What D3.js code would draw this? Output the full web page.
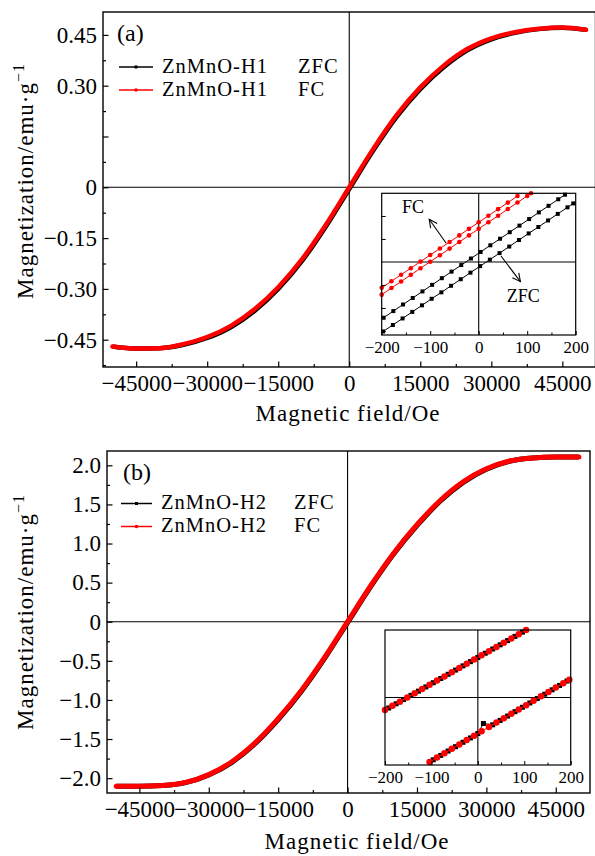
<!DOCTYPE html>
<html>
<head>
<meta charset="utf-8">
<script src="https://cdn.jsdelivr.net/npm/d3@7"></script>
<style>
  body { margin: 0; background: #fff; }
  text { font-family: "Liberation Serif", "Times New Roman", serif; fill: #000; }
</style>
</head>
<body>
<svg id="fig" width="595" height="856"></svg>
<script>
// ---- main loops (field in Oe, magnetization in emu/g) ----
var field = [-50000,-45000,-40000,-35000,-30000,-25000,-20000,-15000,-10000,-5000,0,
             5000,10000,15000,20000,25000,30000,35000,40000,45000,50000];
var fcA  = [-0.470,-0.476,-0.475,-0.463,-0.442,-0.409,-0.360,-0.295,-0.213,-0.112,0,
             0.112,0.213,0.295,0.360,0.409,0.440,0.458,0.468,0.472,0.465];
var zfcA = [-0.470,-0.476,-0.475,-0.465,-0.445,-0.413,-0.365,-0.300,-0.218,-0.117,-0.005,
             0.107,0.208,0.290,0.355,0.405,0.437,0.456,0.467,0.471,0.465];
var fcB  = [-2.105,-2.105,-2.095,-2.055,-1.955,-1.790,-1.550,-1.240,-0.880,-0.460,0,
             0.460,0.880,1.240,1.550,1.790,1.955,2.055,2.095,2.105,2.105];
var zfcB = [-2.105,-2.105,-2.095,-2.058,-1.960,-1.798,-1.560,-1.252,-0.892,-0.472,-0.012,
             0.448,0.868,1.228,1.540,1.782,1.950,2.052,2.094,2.105,2.105];

// ---- axis ticks ----
var xMajor = [-45000,-30000,-15000,0,15000,30000,45000];
var xMinor = [-37500,-22500,-7500,7500,22500,37500];
var yTicksA  = [-0.45,-0.30,-0.15,0,0.15,0.30,0.45];
var yLabelsA = ["\u22120.45","\u22120.30","\u22120.15","0","","0.30","0.45"];
var yMinorA  = [-0.525,-0.375,-0.225,-0.075,0.075,0.225,0.375,0.525];
var yTicksB  = [-2.0,-1.5,-1.0,-0.5,0,0.5,1.0,1.5,2.0];
var yLabelsB = ["\u22122.0","\u22121.5","\u22121.0","\u22120.5","0","0.5","1.0","1.5","2.0"];
var yMinorB  = [-1.75,-1.25,-0.75,-0.25,0.25,0.75,1.25,1.75];

// ---- insets (field in Oe, magnetization in 10^-3 emu/g) ----
var insetXTicks  = [-200,-100,0,100,200];
var insetXLabels = ["\u2212200","\u2212100","0","100","200"];
var insetXMinor  = [-150,-50,50,150];

var zfcUpA_H = [-196,-176,-156,-136,-116,-96,-76,-56,-36,-16,4,24,44,64,84,104,124,144,164,178];
var zfcUpA_M = [-4.85,-4.27,-3.70,-3.13,-2.56,-1.99,-1.41,-0.84,-0.27,0.30,0.87,1.45,2.02,2.59,3.16,3.73,4.31,4.88,5.45,5.85];
var zfcLoA_H = [-197,-177,-157,-137,-117,-97,-77,-57,-37,-17,3,23,43,63,83,103,123,143,163,183,195];
var zfcLoA_M = [-6.04,-5.48,-4.91,-4.34,-3.77,-3.20,-2.64,-2.07,-1.50,-0.93,-0.36,0.20,0.77,1.34,1.91,2.48,3.04,3.61,4.18,4.75,5.09];
var fcUpA_H = [-200,-180,-160,-140,-120,-100,-80,-60,-40,-20,0,20,40,60,80];
var fcUpA_M = [-2.25,-1.68,-1.11,-0.54,0.03,0.60,1.17,1.74,2.31,2.88,3.45,4.02,4.59,5.16,5.73];
var fcLoA_H = [-200,-180,-160,-140,-120,-100,-80,-60,-40,-20,0,20,40,60,80,100,108];
var fcLoA_M = [-2.84,-2.27,-1.70,-1.12,-0.55,0.02,0.59,1.16,1.74,2.31,2.88,3.45,4.02,4.60,5.17,5.74,5.97];

var fcUpB_H = [-200,-184,-168,-152,-136,-120,-104,-88,-72,-56,-40,-24,-8,8,24,40,56,72,88,104];
var fcUpB_M = [-3.73,-2.48,-1.23,0.01,1.26,2.51,3.76,5.01,6.25,7.50,8.75,10.00,11.25,12.49,13.74,14.99,16.24,17.49,18.73,19.98];
var fcLoB_H = [-104,-88,-72,-56,-40,-24,-8,8,24,40,56,72,88,104,120,136,152,168,184,197];
var fcLoB_M = [-19.10,-17.81,-16.51,-15.22,-13.92,-12.62,-11.33,-10.03,-8.74,-7.44,-6.14,-4.85,-3.55,-2.26,-0.96,0.34,1.63,2.93,4.22,5.28];
var zfcUpB_H = [-192,-176,-160,-144,-128,-112,-96,-80,-64,-48,-32,-16,0,16,32,48,64,80,96];
var zfcUpB_M = [-3.11,-1.86,-0.61,0.64,1.89,3.13,4.38,5.63,6.88,8.13,9.37,10.62,11.87,13.12,14.37,15.61,16.86,18.11,19.36];
var zfcLoB_H = [-96,-80,-64,-48,-32,-16,0,12,32,48,64,80,96,112,128,144,160,176,192];
var zfcLoB_M = [-18.46,-17.16,-15.86,-14.57,-13.27,-11.98,-10.68,-7.70,-8.09,-6.79,-5.50,-4.20,-2.90,-1.61,-0.31,0.98,2.28,3.58,4.87];

// ---- legend / annotation text ----
var legendA = ["ZnMnO-H1","ZnMnO-H1"];
var legendB = ["ZnMnO-H2","ZnMnO-H2"];
var legendKind = ["ZFC","FC"];
var noteLabels = ["FC","ZFC"];
var noteTextH = [-158, 58];
var noteTextM = [4.26, -3.48];
var arrowFromH = [-67, 46], arrowFromM = [1.63, 0.52];
var arrowToH = [-102, 86],  arrowToM = [3.71, -1.71];

var RED = "#ff0000";
var svg = d3.select("#fig");

svg.append("defs").append("marker")
  .attr("id", "arrow").attr("markerUnits", "userSpaceOnUse")
  .attr("markerWidth", 12).attr("markerHeight", 12)
  .attr("refX", 9).attr("refY", 5).attr("orient", "auto")
  .append("path").attr("d", "M1,1 L9,5 L1,9")
  .attr("fill", "none").attr("stroke", "#000").attr("stroke-width", 1.1);

function noDomain(sel) { sel.select(".domain").remove(); }

function drawPanel(p) {
  var g = svg.append("g");
  var x = d3.scaleLinear().domain(p.xDomain).range([p.left, p.right]);
  var y = d3.scaleLinear().domain(p.yDomain).range([p.bottom, p.top]);

  // zero lines
  g.append("line").attr("x1", x(0)).attr("x2", x(0)).attr("y1", p.top).attr("y2", p.bottom)
    .attr("stroke", "#000").attr("stroke-width", 1.1);
  g.append("line").attr("x1", p.left).attr("x2", p.right).attr("y1", y(0)).attr("y2", y(0))
    .attr("stroke", "#000").attr("stroke-width", 1.1);

  // curves
  var line = d3.line().x(function (d, i) { return x(field[i]); })
    .y(function (d) { return y(d); }).curve(d3.curveMonotoneX);
  g.append("path").datum(p.zfc).attr("d", line)
    .attr("fill", "none").attr("stroke", "#000").attr("stroke-width", p.curveW);
  g.append("path").datum(p.fc).attr("d", line)
    .attr("fill", "none").attr("stroke", RED).attr("stroke-width", p.curveW)
    .attr("stroke-linecap", "round");

  // x axis
  g.append("g").attr("transform", "translate(0," + p.bottom + ")")
    .call(d3.axisBottom(x).tickValues(xMinor).tickSize(-3).tickFormat(""))
    .call(noDomain).selectAll("line").attr("stroke-width", 1.2);
  var xa = g.append("g").attr("transform", "translate(0," + p.bottom + ")")
    .call(d3.axisBottom(x).tickValues(xMajor).tickSize(-5.5).tickPadding(8)
      .tickFormat(d3.format("d")))
    .call(noDomain);
  xa.attr("font-size", 23);
  xa.selectAll("line").attr("stroke-width", 1.2);

  // y axis
  g.append("g").attr("transform", "translate(" + p.left + ",0)")
    .call(d3.axisLeft(y).tickValues(p.yMinor.filter(function (v) {
      return v > p.yDomain[0] && v < p.yDomain[1]; })).tickSize(-3).tickFormat(""))
    .call(noDomain).selectAll("line").attr("stroke-width", 1.2);
  var ya = g.append("g").attr("transform", "translate(" + p.left + ",0)")
    .call(d3.axisLeft(y).tickValues(p.yTicks).tickSize(-5.5).tickPadding(6)
      .tickFormat(function (d, i) { return p.yLabels[i]; }))
    .call(noDomain);
  ya.attr("font-size", 23);
  ya.selectAll("line").attr("stroke-width", 1.2);

  // frame
  g.append("rect").attr("x", p.left).attr("y", p.top)
    .attr("width", p.right - p.left).attr("height", p.bottom - p.top)
    .attr("fill", "none").attr("stroke", "#000").attr("stroke-width", 1.4);

  // axis titles
  g.append("text").attr("x", p.xTitleX).attr("y", p.xTitleY)
    .attr("text-anchor", "middle").attr("font-size", 23).attr("letter-spacing", 1)
    .text("Magnetic field/Oe");
  var yt = g.append("text")
    .attr("transform", "translate(33," + p.yTitleY + ") rotate(-90)")
    .attr("text-anchor", "middle").attr("font-size", 23).attr("letter-spacing", 1);
  yt.append("tspan").text("Magnetization/emu\u00b7g");
  yt.append("tspan").attr("font-size", 16).attr("dy", -9).text("\u22121");

  // tag + legend
  g.append("text").attr("x", p.tagX).attr("y", p.tagY).attr("font-size", 24).text(p.tag);
  p.legend.forEach(function (name, i) {
    var ly = p.legY[i], col = i === 0 ? "#000" : RED;
    g.append("line").attr("x1", p.legX1).attr("x2", p.legX2).attr("y1", ly).attr("y2", ly)
      .attr("stroke", col).attr("stroke-width", 1.5);
    if (i === 0) {
      g.append("rect").attr("x", (p.legX1 + p.legX2) / 2 - 1.5).attr("y", ly - 1.5)
        .attr("width", 3).attr("height", 3).attr("fill", col);
    } else {
      g.append("circle").attr("cx", (p.legX1 + p.legX2) / 2).attr("cy", ly).attr("r", 1.8).attr("fill", col);
    }
    g.append("text").attr("x", p.legTextX).attr("y", ly + 5.5).attr("font-size", 20.5)
      .attr("letter-spacing", 1).text(name);
    g.append("text").attr("x", p.legKindX).attr("y", ly + 5.5).attr("font-size", 20.5)
      .attr("letter-spacing", 1).text(legendKind[i]);
  });
}

function drawInset(o) {
  var g = svg.append("g");
  var x = d3.scaleLinear().domain([-200, 200]).range([o.left, o.right]);
  var y = d3.scaleLinear().domain(o.yDomain).range([o.bottom, o.top]);
  g.append("rect").attr("x", o.left).attr("y", o.top)
    .attr("width", o.right - o.left).attr("height", o.bottom - o.top)
    .attr("fill", "#fff");
  g.append("clipPath").attr("id", "clip" + o.id).append("rect")
    .attr("x", o.left - 4).attr("y", o.top - 4)
    .attr("width", o.right - o.left + 8).attr("height", o.bottom - o.top + 8);

  g.append("line").attr("x1", x(0)).attr("x2", x(0)).attr("y1", o.top).attr("y2", o.bottom)
    .attr("stroke", "#000").attr("stroke-width", 1.1);
  g.append("line").attr("x1", o.left).attr("x2", o.right).attr("y1", y(0)).attr("y2", y(0))
    .attr("stroke", "#000").attr("stroke-width", 1.1);

  var data = g.append("g").attr("clip-path", "url(#clip" + o.id + ")");
  o.series.forEach(function (s) {
    var pts = s.h.map(function (h, i) { return [h, s.m[i]]; });
    data.append("path").datum(pts)
      .attr("d", d3.line().x(function (d) { return x(d[0]); }).y(function (d) { return y(d[1]); }))
      .attr("fill", "none").attr("stroke", s.color).attr("stroke-width", 1);
    if (s.shape === "square") {
      data.selectAll(null).data(pts).enter().append("rect")
        .attr("x", function (d) { return x(d[0]) - s.size / 2; })
        .attr("y", function (d) { return y(d[1]) - s.size / 2; })
        .attr("width", s.size).attr("height", s.size).attr("fill", s.color);
    } else {
      data.selectAll(null).data(pts).enter().append("circle")
        .attr("cx", function (d) { return x(d[0]); })
        .attr("cy", function (d) { return y(d[1]); })
        .attr("r", s.size / 2).attr("fill", s.color);
    }
  });

  g.append("g").attr("transform", "translate(0," + o.bottom + ")")
    .call(d3.axisBottom(x).tickValues(insetXMinor).tickSize(-2.5).tickFormat(""))
    .call(noDomain);
  var xa = g.append("g").attr("transform", "translate(0," + o.bottom + ")")
    .call(d3.axisBottom(x).tickValues(insetXTicks).tickSize(-4).tickPadding(6)
      .tickFormat(function (d, i) { return insetXLabels[i]; }))
    .call(noDomain);
  xa.attr("font-size", 17);
  if (o.yTicks) {
    g.append("g").attr("transform", "translate(" + o.left + ",0)")
      .call(d3.axisLeft(y).tickValues(o.yTicks).tickSize(-4).tickFormat(""))
      .call(noDomain);
  }
  g.append("rect").attr("x", o.left).attr("y", o.top)
    .attr("width", o.right - o.left).attr("height", o.bottom - o.top)
    .attr("fill", "none").attr("stroke", "#000").attr("stroke-width", 1.2);

  if (o.notes) {
    noteLabels.forEach(function (t, i) {
      g.append("text").attr("x", x(noteTextH[i])).attr("y", y(noteTextM[i]))
        .attr("font-size", 18).text(t);
      g.append("line")
        .attr("x1", x(arrowFromH[i])).attr("y1", y(arrowFromM[i]))
        .attr("x2", x(arrowToH[i])).attr("y2", y(arrowToM[i]))
        .attr("stroke", "#000").attr("stroke-width", 1.1).attr("marker-end", "url(#arrow)");
    });
  }
}

drawPanel({
  xDomain: [-52000, 52000], left: 103, right: 595.5, top: 12, bottom: 367,
  yDomain: [-0.5306, 0.5176], yTicks: yTicksA, yLabels: yLabelsA, yMinor: yMinorA,
  fc: fcA, zfc: zfcA, curveW: 4.5,
  xTitleX: 348, xTitleY: 421, yTitleY: 181,
  tag: "(a)", tagX: 117, tagY: 41,
  legend: legendA, legY: [67, 90], legX1: 119, legX2: 153, legTextX: 162, legKindX: 298
});
drawPanel({
  xDomain: [-52000, 52400], left: 107, right: 590, top: 451, bottom: 793,
  yDomain: [-2.19, 2.183], yTicks: yTicksB, yLabels: yLabelsB, yMinor: yMinorB,
  fc: fcB, zfc: zfcB, curveW: 5,
  xTitleX: 357, xTitleY: 849, yTitleY: 612,
  tag: "(b)", tagX: 123, tagY: 480,
  legend: legendB, legY: [503.5, 526.5], legX1: 121, legX2: 152, legTextX: 161, legKindX: 294
});

drawInset({
  id: "a", left: 381.7, right: 575.7, top: 193.3, bottom: 335, yDomain: [-6.35, 5.97],
  yTicks: [-6, -4, -2, 2, 4], notes: true,
  series: [
    { h: zfcUpA_H, m: zfcUpA_M, color: "#000", shape: "square", size: 4 },
    { h: zfcLoA_H, m: zfcLoA_M, color: "#000", shape: "square", size: 4 },
    { h: fcUpA_H, m: fcUpA_M, color: RED, shape: "circle", size: 4.6 },
    { h: fcLoA_H, m: fcLoA_M, color: RED, shape: "circle", size: 4.6 }
  ]
});
drawInset({
  id: "b", left: 385, right: 570.7, top: 630, bottom: 765, yDomain: [-20, 20],
  yTicks: null, notes: false,
  series: [
    { h: zfcUpB_H, m: zfcUpB_M, color: "#000", shape: "square", size: 5 },
    { h: zfcLoB_H, m: zfcLoB_M, color: "#000", shape: "square", size: 5 },
    { h: fcUpB_H, m: fcUpB_M, color: RED, shape: "circle", size: 6.5 },
    { h: fcLoB_H, m: fcLoB_M, color: RED, shape: "circle", size: 6.5 }
  ]
});
</script>
</body>
</html>
